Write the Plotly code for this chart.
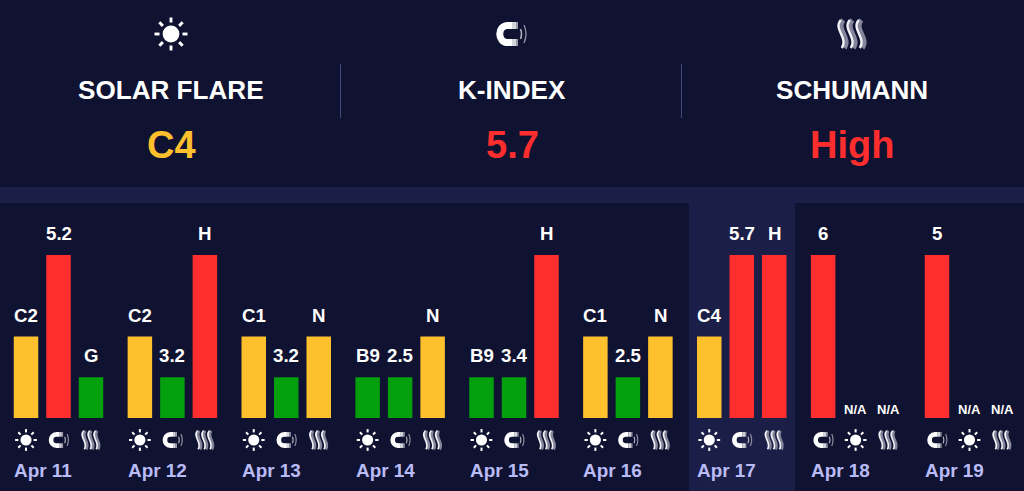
import plotly.graph_objects as go

W, H = 1024, 491

# Data
dates = ['Apr 11', 'Apr 12', 'Apr 13', 'Apr 14', 'Apr 15', 'Apr 16', 'Apr 17', 'Apr 18', 'Apr 19']
flare_labels = ['C2', 'C2', 'C1', 'B9', 'B9', 'C1', 'C4', 'N/A', 'N/A']
flare_levels = [2, 2, 2, 1, 1, 2, 2, 0, 0]
flare_colors = ['#ffc02e', '#ffc02e', '#ffc02e', '#049f0c', '#049f0c', '#ffc02e', '#ffc02e', '#ffc02e', '#ffc02e']
flare_slots = [0, 0, 0, 0, 0, 0, 0, 1, 1]
k_labels = ['5.2', '3.2', '3.2', '2.5', '3.4', '2.5', '5.7', '6', '5']
k_levels = [4, 1, 1, 1, 1, 1, 4, 4, 4]
k_colors = ['#ff2e2e', '#049f0c', '#049f0c', '#049f0c', '#049f0c', '#049f0c', '#ff2e2e', '#ff2e2e', '#ff2e2e']
k_slots = [1, 1, 1, 1, 1, 1, 1, 0, 0]
sch_labels = ['G', 'H', 'N', 'N', 'H', 'N', 'H', 'N/A', 'N/A']
sch_levels = [1, 4, 2, 2, 4, 2, 4, 0, 0]
sch_colors = ['#049f0c', '#ff2e2e', '#ffc02e', '#ffc02e', '#ff2e2e', '#ffc02e', '#ff2e2e', '#ff2e2e', '#ff2e2e']
sch_slots = [2, 2, 2, 2, 2, 2, 2, 2, 2]

header_names = ['SOLAR FLARE', 'K-INDEX', 'SCHUMANN']
header_values = ['C4', '5.7', 'High']
header_colors = ['#ffc02e', '#ff2e2e', '#ff2e2e']
header_x = [171, 512, 852]

BG = '#0f1230'
BAND = '#1b1f47'
FONT = 'Liberation Sans'

# layout in pixels
DAY_W = 113.875
FIRST_BAR = 26
SLOT_W = 32.5 / DAY_W
BAR_W = 24.5 / DAY_W
BASE_Y = 418
LEVEL_PX = 163 / 4


def px(x):
    return x / W


def py(y):
    return 1 - y / H


def bar_x(day, slot):
    return FIRST_BAR + DAY_W * (day + slot * SLOT_W)


shapes = []


def add_line_path(d, color, width):
    shapes.append(dict(type='path', path=d, xref='paper', yref='paper',
                       line=dict(color=color, width=width), layer='above'))


def path(cmds, cx, cy, s):
    # cmds: list of (letter, x1, y1, x2, y2...) relative to the icon centre
    out = []
    for c in cmds:
        nums = c[1:]
        pts = []
        for i in range(0, len(nums), 2):
            pts.append(f'{px(cx + nums[i] * s):.5f},{py(cy + nums[i + 1] * s):.5f}')
        out.append(c[0] + ' '.join(pts))
    return ' '.join(out)


def sun(cx, cy, s):
    r = 8.4 * s
    shapes.append(dict(type='circle', xref='paper', yref='paper',
                       x0=px(cx - r), x1=px(cx + r), y0=py(cy - r), y1=py(cy + r),
                       fillcolor='white', line=dict(width=0), layer='above'))
    diag = 0.707
    for dx, dy in [(1, 0), (-1, 0), (0, 1), (0, -1), (diag, diag), (diag, -diag), (-diag, diag), (-diag, -diag)]:
        cmds = [('M', dx * 11.5, dy * 11.5), ('L', dx * 16.5, dy * 16.5)]
        add_line_path(path(cmds, cx, cy, s), 'white', max(2.9 * s, 2))


def magnet(cx, cy, s):
    body = [('M', 1, -8.5), ('L', -3, -8.5), ('C', -14, -8.5, -14, 8.5, -3, 8.5), ('L', 1, 8.5)]
    add_line_path(path(body, cx, cy, s), 'white', 7 * s)
    for y in (-8.5, 8.5):
        add_line_path(path([('M', 1, y), ('L', 5, y)], cx, cy, s), '#d5d5dc', 7 * s)
        add_line_path(path([('M', 5, y), ('L', 7, y)], cx, cy, s), '#9a9aa8', 7 * s)
    add_line_path(path([('M', 9.5, -5), ('Q', 11.5, 0, 9.5, 5)], cx, cy, s), '#b0b0bc', max(1.6 * s, 1.2))
    add_line_path(path([('M', 13, -9), ('Q', 17, 0, 13, 9)], cx, cy, s), '#8c8c9c', max(1.4 * s, 1.2))


def waves(cx, cy, s):
    for off in (-9, 0, 9):
        curve = [('M', off - 1, -14), ('C', off - 9, -5, off + 7, 4, off, 14)]
        add_line_path(path(curve, cx + 1.3 * s, cy, s), '#84849a', 5 * s)
        add_line_path(path(curve, cx - 1.2 * s, cy, s), '#f2f2f6', 2.4 * s)


fig = go.Figure()

series = [
    ('Solar flare', flare_levels, flare_colors, flare_slots, flare_labels, sun),
    ('K-index', k_levels, k_colors, k_slots, k_labels, magnet),
    ('Schumann', sch_levels, sch_colors, sch_slots, sch_labels, waves),
]

annotations = []
for name, levels, colors, slots, labels, icon in series:
    xs = [day + slot * SLOT_W for day, slot in enumerate(slots)]
    fig.add_trace(go.Bar(x=xs, y=levels, width=BAR_W, name=name,
                         marker=dict(color=colors, line=dict(width=0)), hoverinfo='skip'))
    for day, (xv, lev, lab) in enumerate(zip(xs, levels, labels)):
        small = lab == 'N/A'
        annotations.append(dict(x=xv, y=lev, xref='x', yref='y', text=lab, showarrow=False,
                                yanchor='middle', yshift=9 if small else 21.5,
                                font=dict(family=FONT, size=13 if small else 18.67, color='white')))
        icon(bar_x(day, slots[day]), 440, 0.66)

for day, d in enumerate(dates):
    annotations.append(dict(x=px(12 + DAY_W * day), y=py(470.5), xref='paper', yref='paper', text=d,
                            showarrow=False, xanchor='left', yanchor='middle',
                            font=dict(family=FONT, size=18.9, color='#b9bbf7')))

for name, val, col, x in zip(header_names, header_values, header_colors, header_x):
    annotations.append(dict(x=px(x), y=py(90), xref='paper', yref='paper', text=name, showarrow=False,
                            xanchor='center', yanchor='middle',
                            font=dict(family=FONT, size=26.1, color='white')))
    annotations.append(dict(x=px(x), y=py(145), xref='paper', yref='paper', text=val, showarrow=False,
                            xanchor='center', yanchor='middle',
                            font=dict(family=FONT, size=38, color=col)))

sun(171, 34, 1)
magnet(511, 34, 1)
waves(852, 34, 1)

# band, highlight and dividers sit under the bars
under = [
    dict(type='rect', xref='paper', yref='paper', x0=0, x1=1, y0=py(203), y1=py(187),
         fillcolor=BAND, line=dict(width=0), layer='below'),
    dict(type='rect', xref='paper', yref='paper', x0=px(689), x1=px(795), y0=0, y1=py(203),
         fillcolor=BAND, line=dict(width=0), layer='below'),
    dict(type='line', xref='paper', yref='paper', x0=px(340.5), x1=px(340.5), y0=py(64), y1=py(118),
         line=dict(color='#454a7c', width=1), layer='below'),
    dict(type='line', xref='paper', yref='paper', x0=px(681.5), x1=px(681.5), y0=py(64), y1=py(118),
         line=dict(color='#454a7c', width=1), layer='below'),
]

fig.update_layout(
    width=W, height=H,
    margin=dict(l=0, r=0, t=0, b=0),
    paper_bgcolor=BG, plot_bgcolor='rgba(0,0,0,0)',
    showlegend=False,
    barmode='overlay',
    shapes=under + shapes,
    annotations=annotations,
    font=dict(family=FONT),
)
fig.update_annotations(font_weight='bold')
fig.update_xaxes(visible=False, range=[-FIRST_BAR / DAY_W, (W - FIRST_BAR) / DAY_W])
fig.update_yaxes(visible=False, domain=[(H - BASE_Y) / H, 1], range=[0, BASE_Y / LEVEL_PX])

fig.write_html("out.html", config={'displayModeBar': False},
               post_script="document.body.style.margin='0';document.body.style.background='#0f1230';")
